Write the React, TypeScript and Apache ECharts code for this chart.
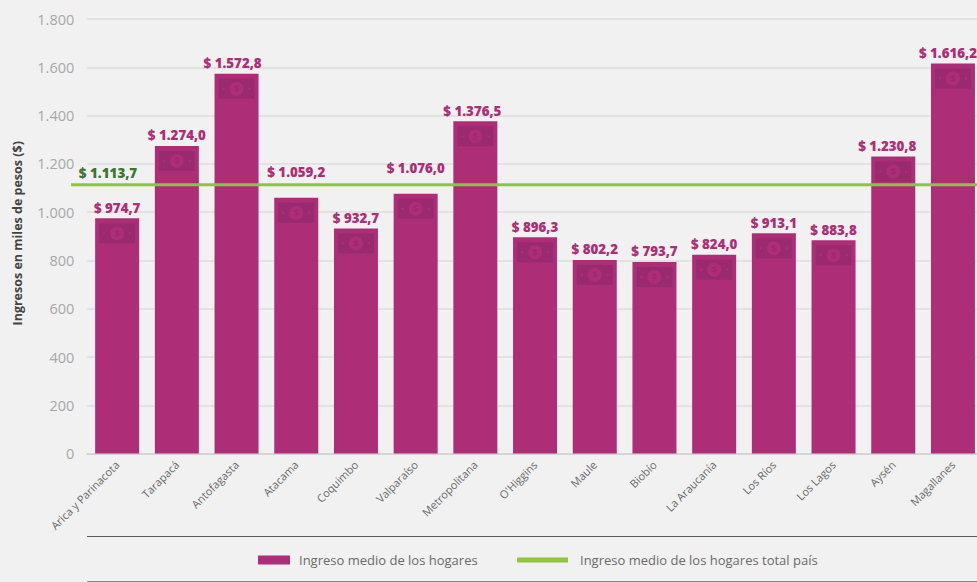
import React, { useEffect, useRef } from "react";
import * as echarts from "echarts";

const regions = ["Arica y Parinacota","Tarapacá","Antofagasta","Atacama","Coquimbo","Valparaíso","Metropolitana","O'Higgins","Maule","Biobío","La Araucanía","Los Ríos","Los Lagos","Aysén","Magallanes"];
const income = [974.7,1274.0,1572.8,1059.2,932.7,1076.0,1376.5,896.3,802.2,793.7,824.0,913.1,883.8,1230.8,1616.2];
const nationalAverage = 1113.7;
const yTicks = { min: 0, max: 1800, interval: 200 };
const raisedLabels = ["Atacama", "Valparaíso"];
const barName = "Ingreso medio de los hogares";
const lineName = "Ingreso medio de los hogares total país";
const axisTitle = "Ingresos en miles de pesos ($)";

const FONT = "'Open Sans', sans-serif";
const MAGENTA = "#ae2d77";
const DARK = "#9a2a70";
const GREEN = "#8fc43f";
const DARK_GREEN = "#3f7431";

const labelShift = (name: string) =>
  name === "Magallanes" ? -5 : name === "Aysén" ? -6 : name === "Antofagasta" ? -4 : name === "Metropolitana" ? -3 : 0;

const fmt = (v: number) => v.toLocaleString("es-CL", { minimumFractionDigits: 1, maximumFractionDigits: 1, useGrouping: "always" } as any);
const money = (v: number) => "$ " + fmt(v);

export default function App() {
  const ref = useRef<HTMLDivElement>(null);
  useEffect(() => {
    document.body.style.margin = "0";
    document.body.style.background = "#f1f1f1";
    const chart = echarts.init(ref.current!, undefined, { renderer: "svg" });
    chart.setOption({
      animation: false,
      backgroundColor: "#f1f1f1",
      textStyle: { fontFamily: FONT },
      grid: { left: 87.3, right: 0.2, top: 19, height: 434.6, containLabel: false },
      xAxis: {
        type: "category",
        data: regions,
        axisTick: { show: false },
        axisLine: { show: true, lineStyle: { color: "#d4d4d4", width: 2 } },
        axisLabel: { interval: 0, rotate: 45, margin: 9, color: "#6a6a6a", fontSize: 11, fontFamily: FONT },
      },
      yAxis: {
        type: "value",
        min: yTicks.min,
        max: yTicks.max,
        interval: yTicks.interval,
        name: axisTitle,
        nameLocation: "middle",
        nameRotate: 90,
        nameGap: 63,
        nameTextStyle: { color: "#444", fontSize: 12.5, fontWeight: "bold", fontFamily: FONT, padding: [0, 0, 0, 6] },
        axisLine: { show: false },
        axisTick: { show: false },
        axisLabel: {
          margin: 13,
          color: "#a8a8a8",
          fontSize: 14.5,
          fontFamily: FONT,
          padding: [0, 0, 2, 0],
          formatter: (v: number) => v.toLocaleString("es-CL", { useGrouping: "always" } as any),
        },
        splitLine: { lineStyle: { color: "#dcdcdc", width: 1.5 } },
      },
      legend: [
        {
          left: 258, top: 553.5, itemWidth: 32, itemHeight: 9, padding: 0, itemGap: 0,
          data: [{ name: barName, icon: "rect" }],
          textStyle: { color: "#6a6a6a", fontSize: 13, fontFamily: FONT, padding: [0, 0, 0, 4] },
        },
        {
          left: 517, top: 553.5, itemWidth: 51, itemHeight: 5, padding: 0, itemGap: 0,
          data: [{ name: lineName, icon: "rect", itemStyle: { color: GREEN } }],
          textStyle: { color: "#6a6a6a", fontSize: 13, fontFamily: FONT, padding: [0, 0, 0, 7] },
        },
      ],
      graphic: [
        { type: "line", shape: { x1: 87, y1: 536.5, x2: 977, y2: 536.5 }, style: { stroke: "#5a5a5a", lineWidth: 1 } },
        { type: "line", shape: { x1: 87, y1: 581.5, x2: 977, y2: 581.5 }, style: { stroke: "#8a8a8a", lineWidth: 1 } },
      ],
      series: [
        {
          name: barName,
          type: "bar",
          barWidth: 44,
          itemStyle: { color: MAGENTA },
          z: 2,
          data: income.map((value, i) => ({
            value,
            label: {
              distance: raisedLabels.includes(regions[i]) ? 19 : 4,
              offset: [labelShift(regions[i]), 0],
            },
          })),
          label: {
            show: true,
            position: "top",
            color: MAGENTA,
            fontSize: 13.3,
            fontWeight: 800,
            fontFamily: FONT,
            formatter: (p: any) => money(p.value),
          },
        },
        {
          type: "custom",
          silent: true,
          z: 3,
          data: income.map((v, i) => [i, v]),
          renderItem: (_: any, api: any) => {
            const [cx, top] = api.coord([api.value(0), api.value(1)]);
            const cy = top + 15;
            return {
              type: "group",
              children: [
                { type: "rect", shape: { x: cx - 18, y: cy - 10, width: 36, height: 20 }, style: { fill: DARK } },
                { type: "circle", shape: { cx, cy, r: 7 }, style: { fill: MAGENTA } },
                { type: "circle", shape: { cx: cx - 13, cy, r: 1.2 }, style: { fill: MAGENTA } },
                { type: "circle", shape: { cx: cx + 13, cy, r: 1.2 }, style: { fill: MAGENTA } },
                { type: "text", style: { x: cx, y: cy, text: "$", fill: DARK, font: "bold 9px 'Open Sans'", align: "center", verticalAlign: "middle" } },
              ],
            };
          },
        },
        {
          name: lineName,
          type: "custom",
          silent: true,
          z: 4,
          clip: false,
          data: [[0, nationalAverage]],
          itemStyle: { color: GREEN },
          renderItem: (_: any, api: any) => {
            const y = api.coord([api.value(0), api.value(1)])[1];
            return {
              type: "group",
              children: [
                { type: "line", shape: { x1: 71, y1: y, x2: api.getWidth(), y2: y }, style: { stroke: GREEN, lineWidth: 3 } },
                { type: "text", style: { x: 108, y: y - 12, text: money(api.value(1)), fill: DARK_GREEN, font: "800 13.4px 'Open Sans'", align: "center", verticalAlign: "middle" } },
              ],
            };
          },
        },
      ],
    });
    return () => chart.dispose();
  }, []);
  return (
    <div style={{ width: 977, height: 582, overflow: "hidden" }}>
      <div ref={ref} style={{ width: 983, height: 582 }} />
    </div>
  );
}
